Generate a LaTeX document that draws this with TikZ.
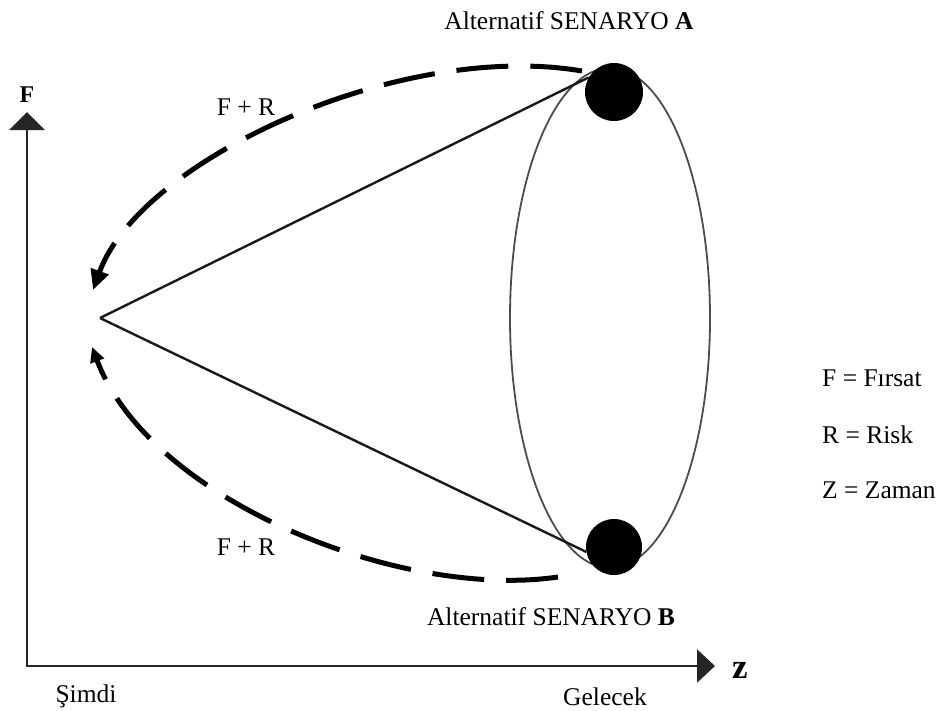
\documentclass[tikz,border=0pt]{standalone}
\usepackage{fontspec}
\setmainfont{Liberation Serif}
\usetikzlibrary{arrows.meta,shapes.geometric}
\begin{document}
\begin{tikzpicture}[x=1pt,y=-1pt,
  txt/.style={font=\fontsize{25.5}{30}\selectfont, inner sep=0pt, anchor=base},
  legend/.style={txt, anchor=base west},
  axisline/.style={line width=2.6pt, draw=black!85,
    {Triangle[length=18pt,width=35pt]}-{Triangle[length=18pt,width=33pt]}},
  cone/.style={line width=2.4pt, draw=black!90},
  dasharc/.style={line width=5pt, draw=black, dash pattern=on 52pt off 22pt},
  dot/.style={circle, fill=black, minimum size=58pt, inner sep=0pt},
]
\useasboundingbox (0,0) rectangle (944,710);

% axes
\coordinate (origin) at (27,666);
\coordinate (ytip) at (27,112);
\coordinate (xtip) at (715,666);
\draw[axisline] (ytip) -- (origin) -- (xtip);
\node[font=\fontsize{24}{28}\selectfont\bfseries, inner sep=0pt, anchor=base] (Flab) at (27,102) {F};
\node[font=\fontsize{35}{40}\selectfont\bfseries, inner sep=0pt, anchor=base] (Zlab) at (740,678) {z};

% ellipse and scenario dots
\node[draw=black!70, line width=1.8pt, ellipse, minimum width=200pt, minimum height=500pt, inner sep=0pt] (ell) at (610,318) {};
\coordinate (apex) at (100,318);
\node[dot] (topC) at (614,92) {};
\node[dot, minimum size=56pt] (botC) at (614,547) {};
\draw[cone] (apex) -- (topC.150);
\draw[cone] (apex) -- (botC.190);

% dashed arcs
\coordinate (s1) at (582,71);
\coordinate (e1) at (93,290);
\coordinate (s2) at (558,577);
\coordinate (e2) at (92,347);
\draw[dasharc, -{Triangle[length=20pt,width=18pt]}] (s1) .. controls (400,40) and (140,160) .. (e1);
\draw[dasharc, -{Triangle[length=15pt,width=14pt]}] (s2) .. controls (400,600) and (150,500) .. (e2);

% labels
\node[txt] (tA) at (569,29) {Alternatif SENARYO \textbf{A}};
\node[txt] (tB) at (551,625) {Alternatif SENARYO \textbf{B}};
\node[txt] (fr1) at (246,115) {F + R};
\node[txt] (fr2) at (246,555) {F + R};
\node[txt] (simdi) at (86,702) {Şimdi};
\node[txt] (gelecek) at (605,705) {Gelecek};
\node[legend] (l1) at (822,386) {F = Fırsat};
\node[legend] (l2) at (822,443) {R = Risk};
\node[legend] (l3) at (822,498) {Z = Zaman};
\end{tikzpicture}
\end{document}
